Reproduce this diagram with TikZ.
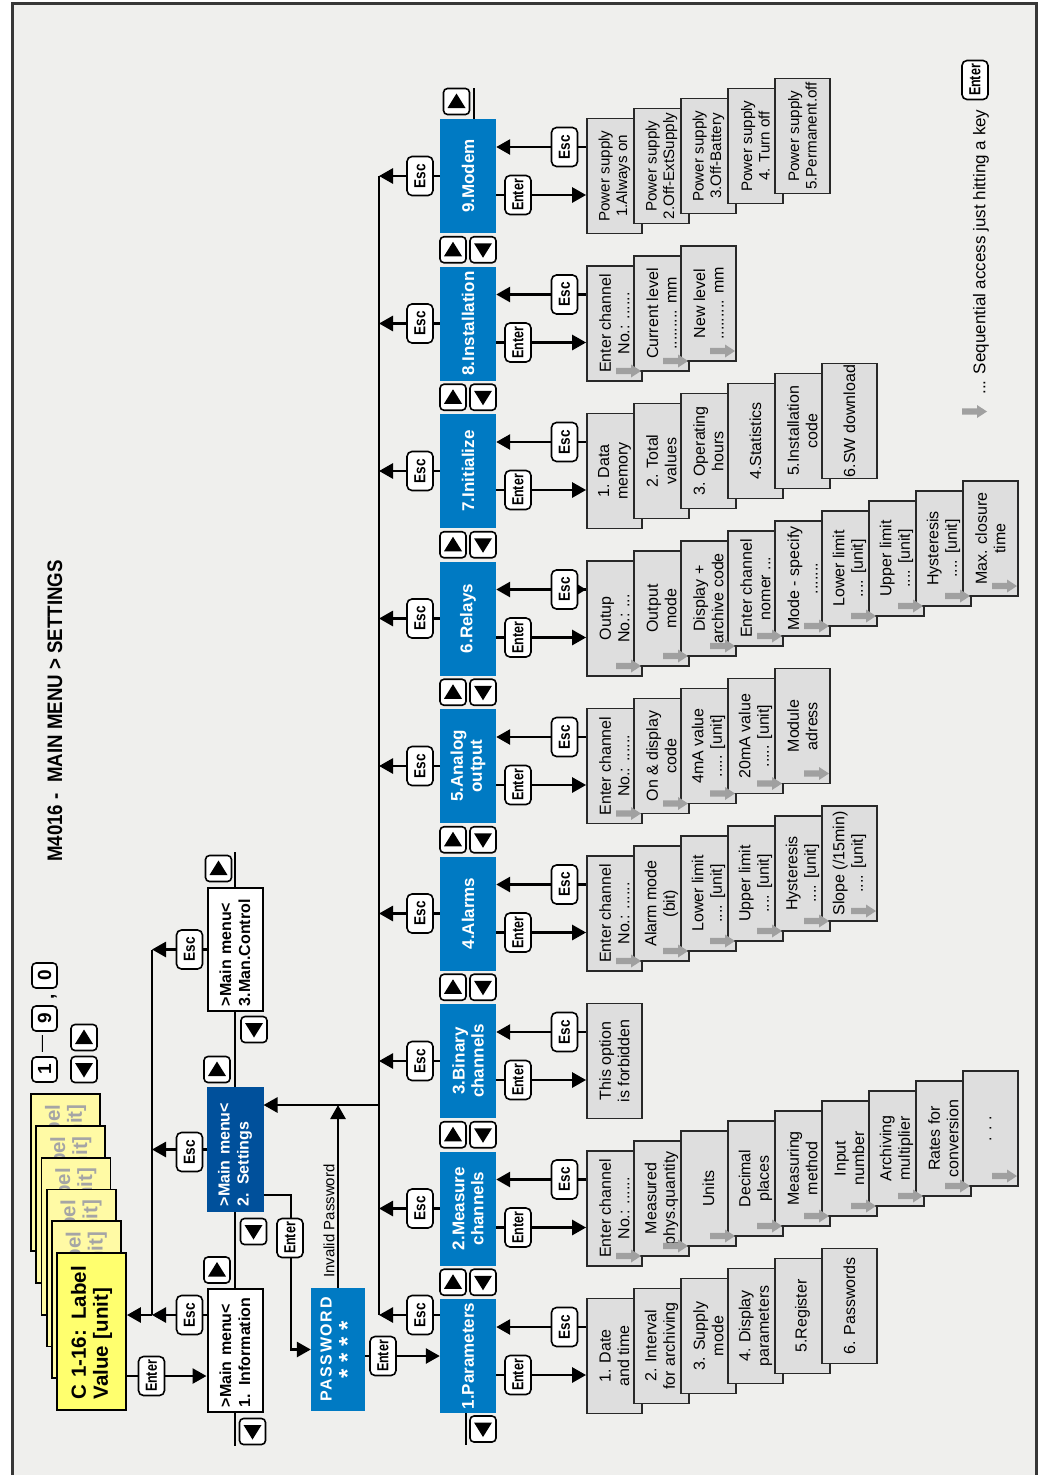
\documentclass[tikz,border=0pt]{standalone}
\usepackage{fontspec}
\setmainfont{Liberation Sans}
\usepackage{graphicx}
\usetikzlibrary{arrows.meta,positioning,calc}
\definecolor{bgGray}{RGB}{239,239,237}
\definecolor{frameGray}{RGB}{55,55,55}
\definecolor{topBlue}{RGB}{0,122,195}
\definecolor{setBlue}{RGB}{0,80,155}
\definecolor{boxGray}{RGB}{222,222,222}
\definecolor{boxEdge}{RGB}{40,40,40}
\definecolor{seqGray}{RGB}{160,160,160}
\definecolor{ylwFront}{RGB}{255,255,110}
\definecolor{ylwBack}{RGB}{255,250,165}
\definecolor{ghostText}{RGB}{165,165,165}
\newcommand\squeeze[2]{\scalebox{#1}[1]{#2}}
\newcommand\esctxt{\squeeze{0.85}{Esc}}
\newcommand\entertxt{\squeeze{0.78}{Enter}}
\newcommand\dd{...}
\tikzset{
  conn/.style={line width=2.8pt,draw=black},
  topBox/.style={fill=topBlue,text=white,rotate=90,minimum width=114,minimum height=56,
                 inner sep=1,align=center,font=\bfseries\fontsize{17}{19}\selectfont},
  subBox/.style={draw=boxEdge,line width=1.8pt,fill=boxGray,rotate=90,minimum width=115,
                 minimum height=55,inner sep=1,align=center,font=\fontsize{16}{18.5}\selectfont},
  menuBox/.style={draw=black,line width=2pt,fill=white,rotate=90,minimum width=123,
                  minimum height=55,text width=113,inner xsep=5,inner ysep=0,align=left,
                  font=\bfseries\fontsize{16}{19}\selectfont},
  pwBox/.style={fill=topBlue,text=white,rotate=90,minimum width=123,minimum height=54,
                inner sep=1,align=center,font=\bfseries\fontsize{16}{24}\selectfont},
  ylwBox/.style={draw=black,line width=1.8pt,rotate=90,minimum width=157,minimum height=69,
                 text width=136,inner xsep=10.5,inner ysep=0,align=left,
                 font=\bfseries\fontsize{20.5}{22}\selectfont},
  escKey/.style={draw=black,line width=1.6pt,fill=white,rounded corners=5pt,rotate=90,
                 minimum width=39,minimum height=26,inner sep=0,
                 font=\bfseries\fontsize{16}{16}\selectfont},
  enterKey/.style={escKey},
  navKey/.style={draw=black,line width=1.6pt,fill=white,rounded corners=4pt,
                 minimum size=26,inner sep=0},
  digitKey/.style={draw=black,line width=1.6pt,fill=white,rounded corners=4pt,rotate=90,
                   minimum size=25,inner sep=0,font=\bfseries\fontsize{19}{19}\selectfont},
  pics/navup/.style={code={\node[navKey] (-key) {};
                           \fill (-9,-6.5) -- (9,-6.5) -- (0,8) -- cycle;}},
  pics/navdown/.style={code={\node[navKey] (-key) {};
                             \fill (-9,6.5) -- (9,6.5) -- (0,-8) -- cycle;}},
  pics/seqarrow/.style={code={\fill[seqGray] (0,0) -- (-10,6.5) -- (-10,3.2) -- (-25,3.2)
                              -- (-25,-3.2) -- (-10,-3.2) -- (-10,-6.5) -- cycle;}},
}
% one cascade of sub menu screens: #1 number, #2 centre (image y), #3 arrows 1/0,
% #4 extra style, #5 texts
\newcommand\menuStack[5]{%
  \foreach \txt [count=\k from 0] in {#5}{%
    \node[subBox,#4] (sub#1-\k) at ({614.5+47*\k},{-#2+10*\k}) {\txt};
  }%
  \ifnum#3=1
    \foreach \txt [count=\k from 0] in {#5}{%
      \pic at ({641+47*\k},{-#2+10*\k-47.5}) {seqarrow};
    }%
  \fi
}
\begin{document}
\begin{tikzpicture}[x=1pt,y=1pt,>={Triangle[length=14pt,width=15pt]}]
\useasboundingbox (0,0) rectangle (1043,-1475);
\fill[white] (0,0) rectangle (1043,-1475);
\draw[draw=frameGray,fill=bgGray,line width=3pt] (12,-3) rectangle (1036,-1490);

\node[rotate=90,font=\bfseries\fontsize{21}{21}\selectfont] (title) at (55,-711)
  {\squeeze{0.89}{M4016 -\ \ MAIN MENU > SETTINGS}};

% channel display
\foreach \k in {5,4,3,2,1}{
  \node[ylwBox,fill=ylwBack,text=ghostText,align=right,inner xsep=7] (ylw\k)
    at ({91.5-5.2*\k},{-1331.5+31.8*\k}) {C 1-16: Label\\Value [unit]};
}
\node[ylwBox,fill=ylwFront] (ylw) at (91.5,-1331.5) {C 1-16: Label\\Value [unit]};

\node[digitKey] (key1) at (44.5,-1069.5) {1};
\node[rotate=90,font=\fontsize{17}{17}\selectfont] (keyDash) at (44.5,-1043.5) {---};
\node[digitKey] (key9) at (44.5,-1018.5) {9};
\node[rotate=90,font=\bfseries\fontsize{19}{19}\selectfont] (keyComma) at (54,-996.5) {,};
\node[digitKey] (key0) at (44.5,-975.5) {0};
\pic (ylwDown) at (84,-1069.5) {navdown};
\pic (ylwUp) at (84,-1037.5) {navup};

% main menu
\node[menuBox] (infoBox) at (235,-1350.5) {>Main menu<\\1. Information};
\node[menuBox,fill=setBlue,draw=setBlue,text=white] (setBox) at (235,-1149.5) {>Main menu<\\2. Settings};
\node[menuBox] (manBox) at (235,-949.5) {>Main menu<\\3.Man.Control};
\node[pwBox] (pwBox) at (338,-1349.5)
  {{\addfontfeature{LetterSpace=10}PASSWORD}\\{\fontsize{24}{24}\selectfont * * * *}};
\node[rotate=90,font=\fontsize{15}{15}\selectfont] (invTxt) at (329,-1221) {Invalid Password};

% settings menu
\foreach \txt [count=\i] in {{1.Parameters},{2.Measure\\channels},{3.Binary\\channels},
    {4.Alarms},{5.Analog\\output},{6.Relays},{7.Initialize},{8.Installation},{9.Modem}}{
  \node[topBox] (top\i) at (468,{-1356+147.5*(\i-1)}) {\txt};
}

\menuStack{1}{1356}{0}{}{{1. Date\\and time},{2. Interval\\for archiving},{3. Supply\\mode},
  {4. Display\\parameters},{5.Register},{6. Passwords}}
\menuStack{2}{1208.5}{1}{}{{Enter channel\\No.: \dd\dd},{Measured\\phys.quantity},{Units},
  {Decimal\\places},{Measuring\\method},{Input\\number},{Archiving\\multiplier},
  {Rates for\\conversion},{. . .}}
\menuStack{3}{1061}{0}{}{{This option\\is forbidden}}
\menuStack{4}{913.5}{1}{}{{Enter channel\\No.: \dd\dd},{Alarm mode\\(bit)},
  {Lower limit\\\dd. [unit]},{Upper limit\\\dd. [unit]},{Hysteresis\\\dd. [unit]},
  {Slope (/15min)\\\dd. [unit]}}
\menuStack{5}{766}{1}{}{{Enter channel\\No.: \dd\dd},{On \& display\\code},
  {4mA value\\\dd.. [unit]},{20mA value\\\dd.. [unit]},{Module\\adress}}
\menuStack{6}{618.5}{1}{}{{Outup\\No.: \dd},{Output\\mode},{Display +\\archive code},
  {Enter channel\\nomer \dd},{Mode - specify\\\dd\dd.},{Lower limit\\\dd. [unit]},
  {Upper limit\\\dd. [unit]},{Hysteresis\\\dd. [unit]},{Max. closure\\time}}
\menuStack{7}{471}{0}{}{{1. Data\\memory},{2. Total\\values},{3. Operating\\hours},
  {4.Statistics},{5.Installation\\code},{6.SW download}}
\menuStack{8}{323.5}{1}{}{{Enter channel\\No.: \dd\dd},{Current level\\\dd\dd\dd{} mm},
  {New level\\\dd\dd\dd{} mm}}
\menuStack{9}{176}{0}{font=\fontsize{15.2}{17.5}\selectfont}{{Power supply\\1.Always on},
  {Power supply\\2.Off-ExtSupply},{Power supply\\3.Off-Battery},{Power supply\\4. Turn off},
  {Power supply\\5.Permanent.off}}

% connectors of the main menu
\coordinate (colTop) at (152,-949.5);
\coordinate (colBot) at (152,-1315);
\coordinate (entY) at (0,-1376);
\draw[conn] (colTop) -- (colBot);
\draw[conn,->] (infoBox.north |- colBot) -- (colBot);
\draw[conn,->] (setBox.north) -- (setBox.north -| colBot);
\draw[conn,->] (manBox.north) -- (manBox.north -| colBot);
\draw[conn,->] (colBot) -- (colBot -| ylw.south);
\draw[conn,->] (ylw.south |- entY) -- (infoBox.north |- entY);
\draw[conn] (infoBox.west) -- ++(0,-33);
\draw[conn] (infoBox.east) -- (setBox.west);
\draw[conn] (setBox.east) -- (manBox.west);
\draw[conn] (manBox.east) -- ++(0,35);
\draw[conn,->] ([yshift=-45.5]setBox.south) -- ++(27.5,0) |- (pwBox.north);

% connectors of the settings menu
\coordinate (busTop) at (379,-176);
\coordinate (busBot) at (379,-1315);
\coordinate (busSet) at (379,-1105);
\draw[conn] (busTop) -- (busBot);
\draw[conn,->] (busSet) -- (busSet -| setBox.south);
\draw[conn,->] (pwBox.east) -- (pwBox.east |- busSet);
\draw[conn,->] (pwBox.south |- top1.north) -- (top1.north);
\draw[conn,->] ([yshift=41]top1.north) -- (busBot);
\foreach \i in {2,...,9}{
  \draw[conn,->] (top\i.north) -- (top\i.north -| busTop);
}
\foreach \i in {1,...,9}{
  \draw[conn,<-] ([yshift=29]top\i.south) -- ([yshift=29]sub\i-0.north);
  \draw[conn,->] ([yshift=-19]top\i.south) -- ([yshift=-19]sub\i-0.north);
}
\draw[conn,-{Triangle[length=8pt,width=9pt]}] ([yshift=29,xshift=-12]sub6-0.north) -- ([yshift=29]sub6-0.north);
\draw[conn] ([xshift=-2]top1.west) -- ++(0,-32);
\draw[conn] ([xshift=6]top9.east) -- ++(0,31);

% keys
\node[escKey] (escInfo) at (189.5,-1315) {\esctxt};
\node[escKey] (escSet) at (189.5,-1152) {\esctxt};
\node[escKey] (escMan) at (189.5,-949.5) {\esctxt};
\node[enterKey] (entInfo) at (151.5,-1376) {\entertxt};
\node[enterKey] (entPw) at (290,-1238) {\entertxt};
\node[enterKey] (entPar) at (383,-1356) {\entertxt};
\node[escKey] (escTop1) at (420,-1315) {\esctxt};
\foreach \i in {1,...,9}{
  \pgfmathsetmacro\cy{-1356+147.5*(\i-1)}
  \ifnum\i>1 \node[escKey] (escTop\i) at (420,\cy) {\esctxt}; \fi
  \node[escKey] (escSub\i) at (564.5,\cy+29) {\esctxt};
  \node[enterKey] (entSub\i) at (518,\cy-19) {\entertxt};
}
\foreach \i in {1,...,8}{
  \pgfmathsetmacro\ym{-1356+147.5*(\i-1)+73.75}
  \pic (navU\i) at (453,\ym) {navup};
  \pic (navD\i) at (483,\ym) {navdown};
}
\pic (navDend) at (483,-1429) {navdown};
\pic (navUend) at (456.5,-101.5) {navup};
\pic (colD1) at (252.5,-1431.5) {navdown};
\pic (colU1) at (217,-1270) {navup};
\pic (colD2) at (253.5,-1231.5) {navdown};
\pic (colU2) at (217,-1069.5) {navup};
\pic (colD3) at (254,-1029.5) {navdown};
\pic (colU3) at (218.5,-868.5) {navup};

% legend
\pic at (987,-411.5) {seqarrow};
\node[rotate=90,font=\fontsize{17}{17}\selectfont] (legend) at (981,-252)
  {\dd{} Sequential access just hitting a key};
\node[enterKey] (legEnter) at (975,-80) {\entertxt};
\end{tikzpicture}
\end{document}
